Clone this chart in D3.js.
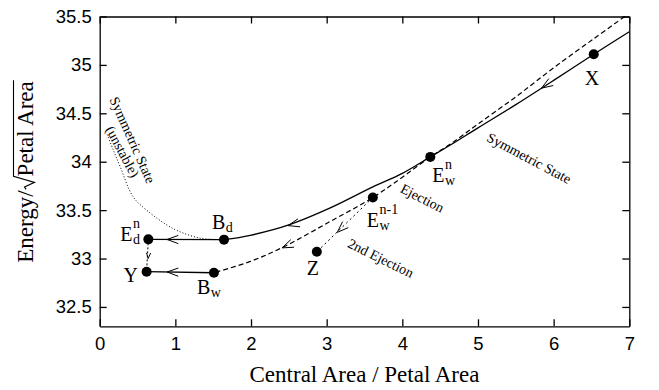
<!DOCTYPE html>
<html>
<head>
<meta charset="utf-8" />
<title>Energy vs central area</title>
<style>
  body { margin: 0; background: #fff; }
  .tick text { font-family: "Liberation Sans", Arial, sans-serif; font-size: 18.5px; fill: #000; }
  .lbl { font-family: "Liberation Serif", "Times New Roman", serif; fill: #000; }
</style>
</head>
<body>
<svg width="659" height="390"></svg>
<script src="https://cdn.jsdelivr.net/npm/d3@7/dist/d3.min.js"></script>
<script>
// ---- data ----
var xTicks = [0, 1, 2, 3, 4, 5, 6, 7];
var yTicks = [32.5, 33, 33.5, 34, 34.5, 35, 35.5];

// symmetric (stable) state, solid
var solidBranch = [[7, 35.343], [6.53, 35.11], [6, 34.84], [5.5, 34.59], [5, 34.35], [4.63, 34.17],
    [4.37, 34.05], [4, 33.88], [3.61, 33.74], [3.04, 33.52], [2.51, 33.35], [1.99, 33.24], [1.643, 33.195]];
// second branch, dashed
var dashedBranch = [[6.94, 35.5], [6.53, 35.27], [6, 34.97], [5.5, 34.67], [5, 34.39], [4.63, 34.18],
    [4.37, 34.05], [4, 33.84], [3.61, 33.63], [3.04, 33.38], [2.43, 33.12], [1.99, 32.97], [1.51, 32.853]];
// symmetric state (unstable), dotted
var unstableBranch = [[0.10, 34.28], [0.18, 34.12], [0.27, 33.95], [0.44, 33.64], [0.62, 33.50],
    [0.97, 33.31], [1.33, 33.21], [1.643, 33.195]];
var jumpD = [[1.643, 33.195], [0.643, 33.198]];
var jumpW = [[1.51, 32.853], [0.62, 32.864]];
var ejection2 = [[3.61, 33.63], [2.87, 33.07]];
var dropLine = [[0.643, 33.198], [0.62, 32.864]];

var pointNames = ["X", "Ewn", "Ewn1", "Z", "Bd", "Edn", "Y", "Bw"];
var pointX = [6.53, 4.37, 3.61, 2.87, 1.643, 0.643, 0.62, 1.51];
var pointY = [35.11, 34.05, 33.63, 33.07, 33.195, 33.198, 32.864, 32.853];

// arrows: tip position and the point it heads to
var arrowAt = [[5.84, 34.76], [2.49, 33.34], [2.41, 33.11], [3.14, 33.27], [0.89, 33.197], [0.89, 32.861], [0.64, 33.0]];
var arrowTo = [[5.5, 34.59], [1.99, 33.24], [1.99, 32.97], [2.87, 33.07], [0.643, 33.198], [0.62, 32.864], [0.63, 32.9]];

// rotated annotations (centre in data units)
var noteText = ["Symmetric State", "Ejection", "2nd Ejection", "Symmetric State", "(unstable)"];
var noteX = [5.674, 4.264, 3.714, 0.431, 0.299];
var noteY = [34.035, 33.622, 33.002, 34.224, 34.103];
var noteAngle = [28, 27, 26, 66, 62];

// ---- layout ----
var svg = d3.select('svg');
var x = d3.scaleLinear().domain([0, 7]).range([99.7, 629.3]);
var y = d3.scaleLinear().domain([32.3, 35.5]).range([326.3, 16.5]);

// axes with inward ticks on all four sides
svg.append('g').attr('transform', 'translate(0,326.3)')
    .call(d3.axisBottom(x).tickValues(xTicks).tickFormat(d3.format('d')).tickSizeInner(-7).tickSizeOuter(0).tickPadding(11));
svg.append('g').attr('transform', 'translate(99.7,0)')
    .call(d3.axisLeft(y).tickValues(yTicks).tickFormat(d => d).tickSizeInner(-7).tickSizeOuter(0).tickPadding(8));
svg.append('g').attr('transform', 'translate(0,16.5)')
    .call(d3.axisTop(x).tickValues(xTicks).tickFormat('').tickSizeInner(-7).tickSizeOuter(0));
svg.append('g').attr('transform', 'translate(629.3,0)')
    .call(d3.axisRight(y).tickValues(yTicks).tickFormat('').tickSizeInner(-7).tickSizeOuter(0));
svg.selectAll('.domain, .tick line').attr('stroke', '#000').attr('stroke-width', 1.3);
svg.selectAll('.tick text').attr('font-size', null).attr('font-family', null);

// axis titles
svg.append('text').attr('class', 'lbl')
    .attr('x', 364.5).attr('y', 382).attr('text-anchor', 'middle')
    .attr('font-size', 23).text('Central Area / Petal Area');

var yt = svg.append('g').attr('transform', 'translate(33,172) rotate(-90)');
var t1 = yt.append('text').attr('class', 'lbl').attr('font-size', 23).text('Energy/');
var t2 = yt.append('text').attr('class', 'lbl').attr('font-size', 23).text('Petal Area');
var w1 = t1.node().getComputedTextLength();
var w2 = t2.node().getComputedTextLength();
var rw = 14;
var total = w1 + rw + w2;
t1.attr('x', -total / 2);
t2.attr('x', -total / 2 + w1 + rw);
var r0 = -total / 2 + w1;
yt.append('path')
    .attr('d', 'M' + (r0 + 1) + ',-7 l2.5,-1.5 l4.5,10 l6,-21 H' + (r0 + rw + w2 + 1))
    .attr('fill', 'none').attr('stroke', '#000').attr('stroke-width', 1.1);

// curves
var line = d3.line().x(d => x(d[0])).y(d => y(d[1])).curve(d3.curveCatmullRom.alpha(0.5));
var straight = d3.line().x(d => x(d[0])).y(d => y(d[1]));
var plot = svg.append('g').attr('fill', 'none').attr('stroke', '#000');

plot.append('path').attr('d', line(solidBranch)).attr('stroke-width', 1.3);
plot.append('path').attr('d', line(dashedBranch)).attr('stroke-width', 1.2).attr('stroke-dasharray', '5,3');
plot.append('path').attr('d', line(unstableBranch)).attr('stroke-width', 1).attr('stroke-dasharray', '1,2');
plot.append('path').attr('d', straight(jumpD)).attr('stroke-width', 1.3);
plot.append('path').attr('d', straight(jumpW)).attr('stroke-width', 1.3);
plot.append('path').attr('d', straight(ejection2)).attr('stroke-width', 1).attr('stroke-dasharray', '2,3');
plot.append('path').attr('d', straight(dropLine)).attr('stroke-width', 1).attr('stroke-dasharray', '2,2');

// open arrow heads
arrowAt.forEach(function (a, i) {
    var tx = x(a[0]), ty = y(a[1]);
    var dx = x(arrowTo[i][0]) - tx, dy = y(arrowTo[i][1]) - ty;
    var ang = Math.atan2(dy, dx) + Math.PI;
    var len = i === 6 ? 6 : 12, th = 20 * Math.PI / 180;
    var p1 = [tx + len * Math.cos(ang - th), ty + len * Math.sin(ang - th)];
    var p2 = [tx + len * Math.cos(ang + th), ty + len * Math.sin(ang + th)];
    plot.append('path')
        .attr('d', 'M' + p1 + 'L' + tx + ',' + ty + 'L' + p2)
        .attr('stroke-width', 1);
});

// points
svg.append('g').selectAll('circle')
    .data(pointNames)
    .enter()
    .append('circle')
    .attr('cx', (d, i) => x(pointX[i]))
    .attr('cy', (d, i) => y(pointY[i]))
    .attr('r', 5)
    .attr('fill', '#000');

// point labels: main letter, superscript, subscript, offset from the dot in px
var labels = {
    X:    { main: 'X', dx: -9, dy: 31 },
    Ewn:  { main: 'E', sup: 'n', sub: 'w', dx: 2, dy: 25 },
    Ewn1: { main: 'E', sup: 'n-1', sub: 'w', dx: -6, dy: 29 },
    Z:    { main: 'Z', dx: -10, dy: 23 },
    Bd:   { main: 'B', sub: 'd', dx: -12, dy: -11 },
    Edn:  { main: 'E', sup: 'n', sub: 'd', dx: -28, dy: 2 },
    Y:    { main: 'Y', dx: -23, dy: 10 },
    Bw:   { main: 'B', sub: 'w', dx: -17, dy: 21 }
};
pointNames.forEach(function (n, i) {
    var L = labels[n];
    var px = x(pointX[i]) + L.dx, py = y(pointY[i]) + L.dy;
    var m = svg.append('text').attr('class', 'lbl').attr('font-size', 20)
        .attr('x', px).attr('y', py).text(L.main);
    var mw = m.node().getComputedTextLength();
    if (L.sup) {
        svg.append('text').attr('class', 'lbl').attr('font-size', 14)
            .attr('x', px + mw + 0.5).attr('y', py - 13).text(L.sup);
    }
    if (L.sub) {
        svg.append('text').attr('class', 'lbl').attr('font-size', 14)
            .attr('x', px + mw + 0.5).attr('y', py + 3).text(L.sub);
    }
});

// rotated notes
noteText.forEach(function (t, i) {
    svg.append('text').attr('class', 'lbl')
        .attr('font-size', 14)
        .attr('text-anchor', 'middle')
        .attr('dominant-baseline', 'central')
        .attr('transform', 'translate(' + x(noteX[i]) + ',' + y(noteY[i]) + ') rotate(' + noteAngle[i] + ')')
        .text(t);
});
</script>
</body>
</html>
